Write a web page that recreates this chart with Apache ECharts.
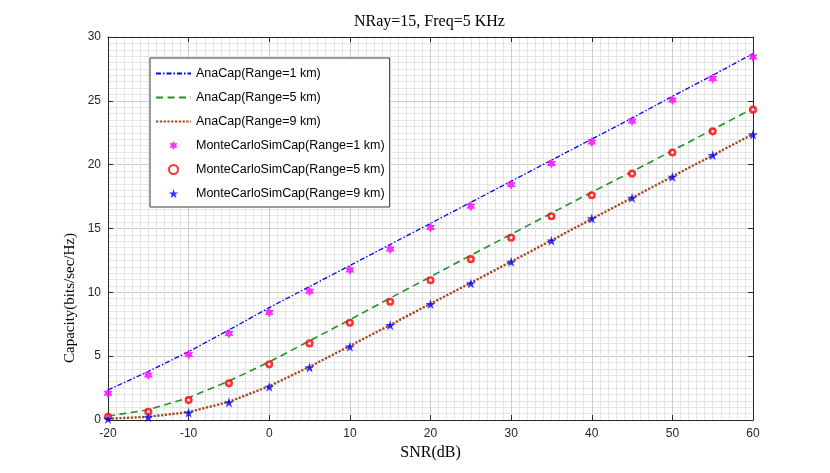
<!DOCTYPE html>
<html>
<head>
<meta charset="utf-8">
<script src="https://cdn.jsdelivr.net/npm/echarts@6/dist/echarts.min.js"></script>
<style>html,body{margin:0;padding:0;background:#fff}#c{width:830px;height:473px}</style>
</head>
<body>
<div id="c"></div>
<script>
// SNR (dB) sample points
var snr = [-20, -15, -10, -5, 0, 5, 10, 15, 20, 25, 30, 35, 40, 45, 50, 55, 60];
// Analytical capacity curves
var anaCap1 = [2.35, 3.8, 5.35, 7.05, 8.8, 10.45, 12.1, 13.75, 15.4, 17.05, 18.7, 20.35, 22.0, 23.65, 25.35, 27.0, 28.7];
var anaCap5 = [0.3, 0.8, 1.75, 3.05, 4.55, 6.2, 7.85, 9.55, 11.22, 12.9, 14.55, 16.2, 17.85, 19.45, 21.1, 22.75, 24.4];
var anaCap9 = [0.1, 0.25, 0.62, 1.42, 2.65, 4.17, 5.8, 7.45, 9.1, 10.75, 12.4, 14.07, 15.75, 17.4, 19.07, 20.73, 22.4];
// Monte Carlo simulated capacity
var mcCap1 = [2.09, 3.52, 5.14, 6.78, 8.43, 10.08, 11.74, 13.4, 15.08, 16.74, 18.44, 20.09, 21.78, 23.42, 25.06, 26.74, 28.43];
var mcCap5 = [0.26, 0.65, 1.56, 2.87, 4.36, 6.0, 7.62, 9.26, 10.95, 12.6, 14.27, 15.96, 17.6, 19.3, 20.95, 22.61, 24.31];
var mcCap9 = [0.08, 0.21, 0.57, 1.38, 2.6, 4.12, 5.74, 7.43, 9.08, 10.7, 12.39, 14.05, 15.78, 17.4, 19.04, 20.74, 22.36];
var seriesNames = ['AnaCap(Range=1 km)', 'AnaCap(Range=5 km)', 'AnaCap(Range=9 km)',
  'MonteCarloSimCap(Range=1 km)', 'MonteCarloSimCap(Range=5 km)', 'MonteCarloSimCap(Range=9 km)'];
var titleText = 'NRay=15, Freq=5 KHz';
var xName = 'SNR(dB)';
var yName = 'Capacity(bits/sec/Hz)';

function pairs(ys) { return snr.map(function (x, i) { return [x, ys[i]]; }); }

var hexagram = 'path://M0,-10 L2.89,-5 L8.66,-5 L5.77,0 L8.66,5 L2.89,5 L0,10 L-2.89,5 L-8.66,5 L-5.77,0 L-8.66,-5 L-2.89,-5 Z';
var pentagram = 'path://M0,-10 L2.245,-3.09 L9.511,-3.09 L3.633,1.18 L5.878,8.09 L0,3.82 L-5.878,8.09 L-3.633,1.18 L-9.511,-3.09 L-2.245,-3.09 Z';

var axisColor = '#262626';
var sans = 'Liberation Sans, Arial, sans-serif';
var serif = 'Liberation Serif, Times New Roman, serif';

function xAxisCfg(pos, main) {
  return {
    type: 'value', position: pos, min: -20, max: 60, interval: 10,
    axisLine: { show: true, onZero: false, lineStyle: { color: axisColor, width: 1 } },
    axisTick: { show: true, inside: true, length: 5, lineStyle: { color: axisColor } },
    axisLabel: { show: main, color: axisColor, fontFamily: sans, fontSize: 12, margin: 8 },
    splitLine: { show: main, lineStyle: { color: '#cdcdcd', width: 1 } },
    minorTick: { show: false, splitNumber: 10 },
    minorSplitLine: { show: main, lineStyle: { color: '#e4e4e4', width: 1 } }
  };
}
function yAxisCfg(pos, main) {
  return {
    type: 'value', position: pos, min: 0, max: 30, interval: 5,
    axisLine: { show: true, onZero: false, lineStyle: { color: axisColor, width: 1 } },
    axisTick: { show: true, inside: true, length: 5, lineStyle: { color: axisColor } },
    axisLabel: { show: main, color: axisColor, fontFamily: sans, fontSize: 12, margin: 7 },
    splitLine: { show: main, lineStyle: { color: '#cdcdcd', width: 1 } },
    minorTick: { show: false, splitNumber: 10 },
    minorSplitLine: { show: main, lineStyle: { color: '#e4e4e4', width: 1 } }
  };
}

var hideSym = { opacity: 0, borderWidth: 0 };

var chart = echarts.init(document.getElementById('c'), null, { renderer: 'canvas' });
chart.setOption({
  backgroundColor: '#ffffff',
  animation: false,
  title: {
    text: titleText, left: 354, top: 14, padding: 0,
    textStyle: { fontFamily: serif, fontSize: 16, fontWeight: 'normal', color: '#000' }
  },
  grid: { left: 108, right: 77, top: 37, bottom: 53, containLabel: false },
  xAxis: [
    Object.assign(xAxisCfg('bottom', true), {
      name: xName, nameLocation: 'middle', nameGap: 23,
      nameTextStyle: { fontFamily: serif, fontSize: 16, color: '#000' }
    }),
    xAxisCfg('top', false)
  ],
  yAxis: [yAxisCfg('left', true), yAxisCfg('right', false)],
  graphic: [{
    type: 'text', x: 70, y: 298, rotation: Math.PI / 2,
    style: { text: yName, font: '15px ' + serif, fill: '#000', textAlign: 'center', textVerticalAlign: 'middle' }
  }],
  legend: {
    orient: 'vertical', left: 150, top: 58,
    padding: [9, 5, 7, 5], itemGap: 11, itemWidth: 35, itemHeight: 9, itemTextGap: 3,
    backgroundColor: '#fff', borderColor: '#3a3a3a', borderWidth: 1,
    textStyle: { fontFamily: sans, fontSize: 12.5, color: '#000' },
    data: [
      { name: seriesNames[0], itemStyle: hideSym },
      { name: seriesNames[1], itemStyle: hideSym },
      { name: seriesNames[2], itemStyle: hideSym },
      { name: seriesNames[3], icon: hexagram },
      { name: seriesNames[4] },
      { name: seriesNames[5], icon: pentagram }
    ]
  },
  series: [
    { name: seriesNames[0], type: 'line', data: pairs(anaCap1), symbol: 'circle', showSymbol: false, smooth: false,
      color: '#0000ff', lineStyle: { color: '#0000ff', width: 1.3, type: [5, 2, 1.5, 2] }, z: 2 },
    { name: seriesNames[1], type: 'line', data: pairs(anaCap5), symbol: 'circle', showSymbol: false, smooth: false,
      color: '#22912a', lineStyle: { color: '#22912a', width: 1.6, type: [7, 4.5] }, z: 2 },
    { name: seriesNames[2], type: 'line', data: pairs(anaCap9), symbol: 'circle', showSymbol: false, smooth: false,
      color: '#a3441a', lineStyle: { color: '#a3441a', width: 2.3, type: [2.2, 1.6] }, z: 2 },
    { name: seriesNames[3], type: 'scatter', data: pairs(mcCap1), symbol: hexagram, symbolSize: [9, 10],
      itemStyle: { color: '#ff00ff' }, z: 3 },
    { name: seriesNames[4], type: 'scatter', data: pairs(mcCap5), symbol: 'circle', symbolSize: 5.5,
      itemStyle: { color: '#ffffff', borderColor: '#ff0000', borderWidth: 2.6 }, z: 3 },
    { name: seriesNames[5], type: 'scatter', data: pairs(mcCap9), symbol: pentagram, symbolSize: 10,
      itemStyle: { color: '#0000ff' }, z: 3 }
  ]
});
</script>
</body>
</html>
